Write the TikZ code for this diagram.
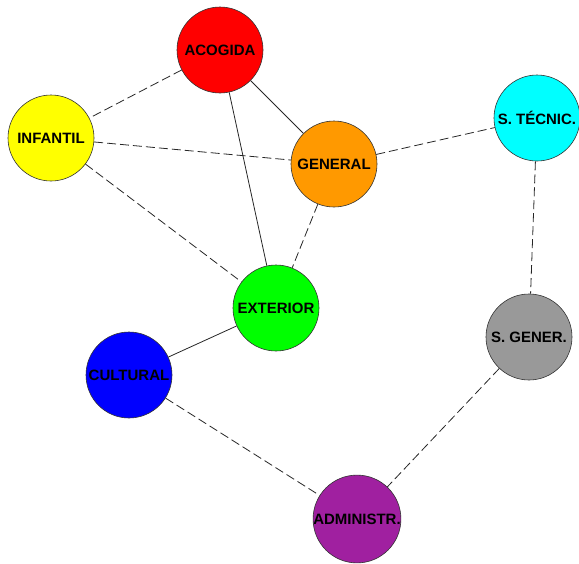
\documentclass[tikz,border=0pt]{standalone}
\usepackage{fontspec}
\setmainfont{Liberation Sans}
\usepackage{xcolor}
\definecolor{cRojo}{RGB}{255,0,0}
\definecolor{cAmarillo}{RGB}{255,255,0}
\definecolor{cNaranja}{RGB}{255,153,0}
\definecolor{cCian}{RGB}{0,255,255}
\definecolor{cVerde}{RGB}{0,255,0}
\definecolor{cGris}{RGB}{153,153,153}
\definecolor{cAzul}{RGB}{0,0,255}
\definecolor{cMorado}{RGB}{160,32,160}

\begin{document}
\begin{tikzpicture}[x=1pt,y=-1pt,
  area/.style={circle,draw=black!80,line width=0.6pt,minimum size=86pt,inner sep=0pt,
    font=\fontsize{15}{15}\selectfont\bfseries,text=black},
  fuerte/.style={draw=black!85,line width=0.8pt},
  debil/.style={draw=black!85,line width=0.8pt,dash pattern=on 9pt off 4pt}]
\useasboundingbox (0,0) rectangle (579,563);
\node[area,fill=cRojo] (acogida) at (220,50) {ACOGIDA};
\node[area,fill=cAmarillo] (infantil) at (51,138) {INFANTIL};
\node[area,fill=cNaranja] (general) at (334,164) {GENERAL};
\node[area,fill=cCian] (stecnic) at (537,118) {S. TÉCNIC.};
\node[area,fill=cVerde] (exterior) at (276,308) {EXTERIOR};
\node[area,fill=cGris] (sgener) at (529,337) {S. GENER.};
\node[area,fill=cAzul] (cultural) at (129,375) {CULTURAL};
\node[area,fill=cMorado] (administr) at (357,519) {ADMINISTR.};
\draw[debil] (acogida) -- (infantil);
\draw[fuerte] (acogida) -- (general);
\draw[fuerte] (acogida) -- (exterior);
\draw[debil] (infantil) -- (general);
\draw[debil] (infantil) -- (exterior);
\draw[debil] (general) -- (stecnic);
\draw[debil] (general) -- (exterior);
\draw[debil] (stecnic) -- (sgener);
\draw[fuerte] (exterior) -- (cultural);
\draw[debil] (cultural) -- (administr);
\draw[debil] (sgener) -- (administr);
\end{tikzpicture}
\end{document}
